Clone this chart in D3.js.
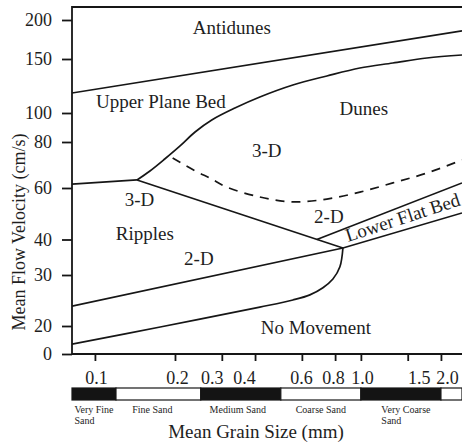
<!DOCTYPE html>
<html><head><meta charset="utf-8">
<script src="https://cdn.jsdelivr.net/npm/d3@7"></script>
<style>
body{margin:0;background:#fff}
svg{display:block}
text{font-family:"Liberation Serif","Times New Roman",serif;fill:#1e1e1e}
</style>
</head><body>
<svg id="chart" width="462" height="443"></svg>
<script>
// ---------- data ----------
const xTicks = [0.1, 0.2, 0.3, 0.4, 0.6, 0.8, 1.0, 1.5, 2.0];
const xTickLabels = ["0.1", "0.2", "0.3", "0.4", "0.6", "0.8", "1.0", "1.5", "2.0"];
const yTicks = [0, 20, 30, 40, 60, 80, 100, 150, 200];
const yTickLabels = ["0", "20", "30", "40", "60", "80", "100", "150", "200"];
const grainDomain = [0.082, 2.4];          // mm, visible extent of the diagram
const velocityTop = 217;                    // cm/s at the top frame

// phase boundaries: [mean grain size (mm), mean flow velocity (cm/s)]
const antidunesBoundary = [[0.082, 118.5], [2.4, 186]];
const upperPlaneDunes = [[0.144, 63.5], [0.161, 67.4], [0.183, 72.6], [0.209, 78.3], [0.238, 86.9],
  [0.275, 95.2], [0.336, 104.6], [0.417, 114.8], [0.555, 125.9], [0.745, 134.3], [0.991, 141.7],
  [1.319, 146.3], [1.771, 151.3], [2.4, 155.1]];
const upperPlaneRipples = [[0.082, 61.7], [0.144, 63.5]];
const dunes3D2D = [[0.196, 73.0], [0.242, 67.0], [0.271, 64.3], [0.313, 60.4], [0.417, 56.5],
  [0.555, 54.6], [0.745, 55.7], [0.991, 58.4], [1.319, 62.2], [1.771, 66.5], [2.4, 72.2]];
const ripplesDunes = [[0.144, 63.5], [0.856, 37.6]];
const lowerFlatTop = [[0.683, 40.0], [2.4, 62.2]];
const ripplesLower = [[0.082, 23.9], [0.856, 37.6], [2.4, 50.3]];
const noMovement = [[0.082, 7.1], [0.176, 19.3], [0.417, 23.7], [0.555, 25.1], [0.643, 26.1],
  [0.720, 27.5], [0.785, 29.2], [0.834, 32.3], [0.856, 37.6]];

// region labels
const regionNames = ["Antidunes", "Upper Plane Bed", "Dunes", "3-D", "3-D", "Ripples", "2-D", "2-D", "Lower Flat Bed", "No Movement"];
const regionGrain = [0.327, 0.177, 1.026, 0.443, 0.147, 0.154, 0.246, 0.758, 0.894, 0.677];
const regionVelocity = [182, 104.6, 98.6, 73.5, 53.0, 39.9, 32.8, 46.4, 39.3, 14.3];

// Wentworth sand classes
const sandClasses = [["Very Fine", "Sand"], ["Fine Sand"], ["Medium Sand"], ["Coarse Sand"], ["Very Coarse", "Sand"], [""]];
const sandBounds = [0.0625, 0.12, 0.25, 0.5, 1, 2, 4];

// ---------- layout ----------
const svg = d3.select("#chart");
const pLeft = 72, pRight = 462, pTop = 7, pBottom = 354;
const x = d3.scaleLog().domain(grainDomain).range([pLeft, pRight]);
// the velocity axis is close to logarithmic but hand-spaced, calibrated at each tick
const y = d3.scaleLinear().domain([...yTicks, velocityTop])
  .range([354, 326, 275, 239.5, 188, 142, 113, 59, 20, 7]);

const ink = "#161616";
svg.append("defs").append("clipPath").attr("id", "plotclip")
  .append("rect").attr("x", pLeft).attr("y", pTop).attr("width", pRight - pLeft).attr("height", pBottom - pTop);

const line = d3.line().x(d => x(d[0])).y(d => y(d[1]));
const smooth = d3.line().x(d => x(d[0])).y(d => y(d[1])).curve(d3.curveCatmullRom.alpha(0.5));

const g = svg.append("g").attr("clip-path", "url(#plotclip)")
  .attr("fill", "none").attr("stroke", ink).attr("stroke-width", 1.7);

g.append("path").attr("d", line(antidunesBoundary));
g.append("path").attr("d", smooth(upperPlaneDunes));
g.append("path").attr("d", line(upperPlaneRipples));
g.append("path").attr("d", smooth(dunes3D2D)).attr("stroke-dasharray", "9,7");
g.append("path").attr("d", line(ripplesDunes));
g.append("path").attr("d", line(lowerFlatTop));
g.append("path").attr("d", line(ripplesLower));
g.append("path").attr("d", smooth(noMovement));

// frame
svg.append("path").attr("fill", "none").attr("stroke", ink).attr("stroke-width", 1.8)
  .attr("d", `M${pRight},${pTop}H${pLeft}V${pBottom}H${pRight}`);

// y axis
const yAxis = d3.axisLeft(y).tickValues(yTicks)
  .tickFormat((d, i) => yTickLabels[i]).tickSize(10).tickPadding(10).tickSizeOuter(0);
const ya = svg.append("g").attr("transform", `translate(${pLeft},0)`).call(yAxis);
ya.select(".domain").remove();
ya.selectAll(".tick line").attr("stroke", ink).attr("stroke-width", 1.8);
ya.selectAll(".tick text").attr("font-size", 18).attr("font-family", "Liberation Serif").attr("fill", "#1e1e1e");

// x axis
const xLabelNudge = [1, 2, -10, -11, -1, -2, 1, 11, 6];
const xAxis = d3.axisBottom(x).tickValues(xTicks)
  .tickFormat((d, i) => xTickLabels[i]).tickSize(7).tickPadding(10).tickSizeOuter(0);
const xa = svg.append("g").attr("transform", `translate(0,${pBottom})`).call(xAxis);
xa.select(".domain").remove();
xa.selectAll(".tick line").attr("stroke", ink).attr("stroke-width", 1.8);
xa.selectAll(".tick text").attr("font-size", 18).attr("font-family", "Liberation Serif").attr("fill", "#1e1e1e")
  .attr("dx", (d, i) => xLabelNudge[i]);

// sand class bar
const barY = 388, barH = 12;
const sandNudge = [0, -6, -3, 0, 5, 0];
const bar = svg.append("g");
sandClasses.forEach((c, i) => {
  const x0 = Math.max(pLeft, x(sandBounds[i])), x1 = Math.min(pRight, x(sandBounds[i + 1]));
  if (x1 <= x0) return;
  bar.append("rect").attr("x", x0).attr("y", barY).attr("width", x1 - x0).attr("height", barH)
    .attr("fill", i % 2 === 0 ? "#141414" : "#fff").attr("stroke", ink).attr("stroke-width", 1.2);
  if (!c[0]) return;
  const cx = x(Math.sqrt(Math.max(sandBounds[i], grainDomain[0]) * sandBounds[i + 1]));
  const t = bar.append("text").attr("font-size", 10).attr("y", 413).text(c[0]);
  const w = t.node().getComputedTextLength();
  const sx = Math.max(pLeft, cx - w / 2 + sandNudge[i]);
  t.attr("x", sx);
  if (c[1]) bar.append("text").attr("font-size", 10).attr("x", sx).attr("y", 424).text(c[1]);
});

// region labels
regionNames.forEach((name, i) => {
  const px = x(regionGrain[i]), py = y(regionVelocity[i]);
  const t = svg.append("text").attr("font-size", 19).text(name);
  if (name === "Lower Flat Bed") {
    t.attr("transform", `translate(${px},${py}) rotate(-18)`).attr("text-anchor", "start");
  } else {
    t.attr("x", px).attr("y", py).attr("text-anchor", "middle");
  }
});

// axis titles
svg.append("text").attr("font-size", 19).attr("text-anchor", "middle")
  .attr("x", 256).attr("y", 438).text("Mean Grain Size (mm)");
svg.append("text").attr("font-size", 18).attr("text-anchor", "middle")
  .attr("transform", "translate(25,232) rotate(-90)").text("Mean Flow Velocity (cm/s)");
</script>
</body></html>
